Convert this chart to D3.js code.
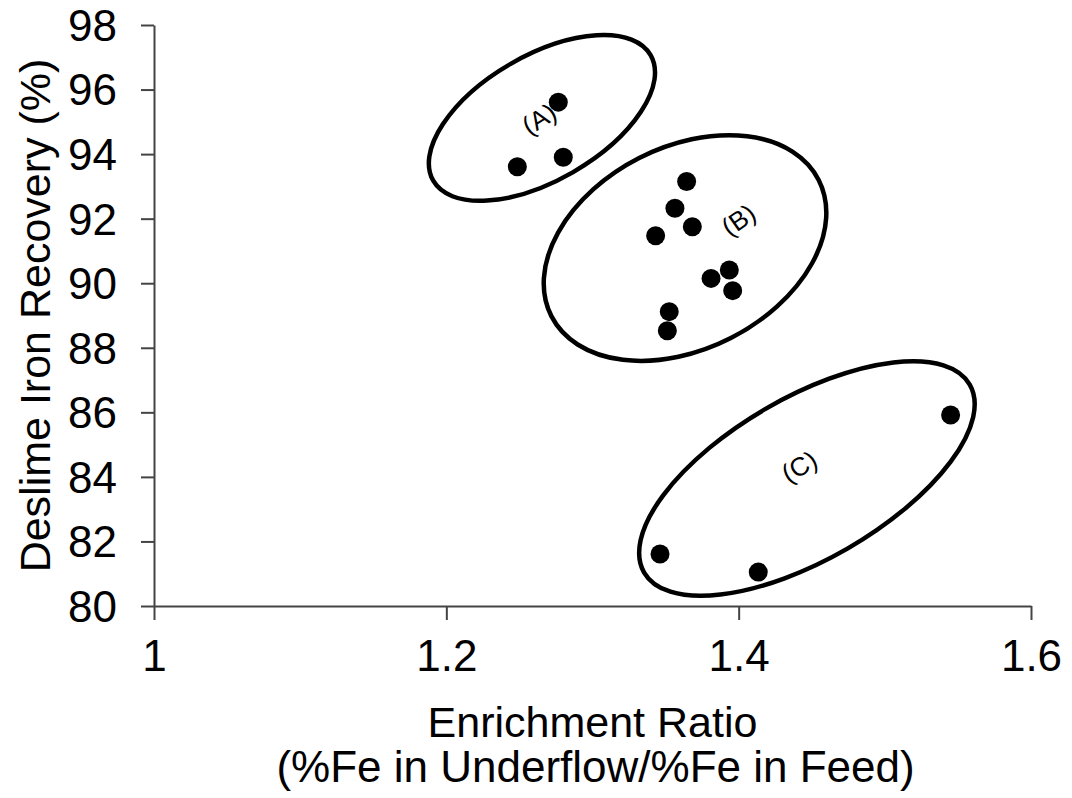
<!DOCTYPE html>
<html>
<head>
<meta charset="utf-8">
<script src="https://cdn.jsdelivr.net/npm/d3@7"></script>
<style>
  html, body { margin: 0; padding: 0; background: #fff; }
  svg { display: block; font-family: "Liberation Sans", Arial, sans-serif; }
</style>
</head>
<body>
<svg id="chart" width="1072" height="798"></svg>
<script>
// ---- data ----
const groupA_x = [1.2766, 1.2486, 1.2800];
const groupA_y = [95.61, 93.61, 93.90];
const groupB_x = [1.3644, 1.3564, 1.3683, 1.3432, 1.3936, 1.3811, 1.3959, 1.3525, 1.3512];
const groupB_y = [93.15, 92.32, 91.75, 91.47, 90.41, 90.15, 89.77, 89.12, 88.53];
const groupC_x = [1.5450, 1.3462, 1.4134];
const groupC_y = [85.92, 81.61, 81.05];

const xTicks = [1, 1.2, 1.4, 1.6];
const yTicks = [80, 82, 84, 86, 88, 90, 92, 94, 96, 98];
const xDomain = [1, 1.6];
const yDomain = [80, 98];

const groupLabels = ["(A)", "(B)", "(C)"];
const groupLabelX = [1.2634, 1.3999, 1.4415];
const groupLabelY = [95.09, 91.96, 84.32];
// cluster ellipse centres in data units
const ellipseCx = [1.2654, 1.3633, 1.4467];
const ellipseCy = [95.12, 91.09, 83.95];

const xTitle1 = "Enrichment Ratio";
const xTitle2 = "(%Fe in Underflow/%Fe in Feed)";
const yTitle = "Deslime Iron Recovery (%)";

// ---- layout ----
const margin = { left: 154, top: 25, right: 1072 - 1031, bottom: 798 - 606 };
const svg = d3.select("#chart");
const W = 1072, H = 798;
const x = d3.scaleLinear().domain(xDomain).range([margin.left, W - margin.right]);
const y = d3.scaleLinear().domain(yDomain).range([H - margin.bottom, margin.top]);

// ellipse shapes (pixel semi-axes, rotation in degrees)
const ellipseRx = [125.5, 150, 188];
const ellipseRy = [62.5, 101, 81];
const ellipseRot = [-30, -27, -30];
const labelRot = [-32, -35, -30];

// axes
const axisColor = "#444";
const yAxis = svg.append("g")
  .attr("transform", `translate(${margin.left},0)`)
  .call(d3.axisLeft(y).tickValues(yTicks).tickSize(13).tickSizeOuter(0).tickPadding(24).tickFormat(d3.format("d")));
const xAxis = svg.append("g")
  .attr("transform", `translate(0,${H - margin.bottom})`)
  .call(d3.axisBottom(x).tickValues(xTicks).tickSize(14).tickSizeOuter(0).tickPadding(20).tickFormat(d => d === 1 ? "1" : d3.format(".1f")(d)));

[xAxis, yAxis].forEach(g => {
  g.select(".domain").attr("stroke", axisColor).attr("stroke-width", 2);
  g.selectAll(".tick line").attr("stroke", axisColor).attr("stroke-width", 2);
  g.selectAll(".tick text").attr("fill", "#000").style("font-size", "44px")
    .style("font-family", '"Liberation Sans", Arial, sans-serif');
});
yAxis.selectAll(".tick text").attr("dy", "0.35em");
xAxis.selectAll(".tick text").attr("dy", "0.71em");

// axis titles
svg.append("text")
  .attr("x", (x(xDomain[0]) + x(xDomain[1])) / 2)
  .attr("y", 737)
  .attr("text-anchor", "middle")
  .style("font-size", "43px")
  .text(xTitle1);
svg.append("text")
  .attr("x", (x(xDomain[0]) + x(xDomain[1])) / 2 + 3)
  .attr("y", 782)
  .attr("text-anchor", "middle")
  .style("font-size", "44px")
  .text(xTitle2);
svg.append("text")
  .attr("transform", `translate(50,${(y(yDomain[0]) + y(yDomain[1])) / 2}) rotate(-90)`)
  .attr("text-anchor", "middle")
  .style("font-size", "43px")
  .text(yTitle);

// ellipses
const ellipses = ellipseCx.map((cx, i) => ({ cx, cy: ellipseCy[i], rx: ellipseRx[i], ry: ellipseRy[i], rot: ellipseRot[i] }));
svg.append("g").selectAll("ellipse").data(ellipses).join("ellipse")
  .attr("transform", d => `translate(${x(d.cx)},${y(d.cy)}) rotate(${d.rot})`)
  .attr("rx", d => d.rx)
  .attr("ry", d => d.ry)
  .attr("fill", "none")
  .attr("stroke", "#000")
  .attr("stroke-width", 4.5);

// points
const points = [];
groupA_x.forEach((v, i) => points.push({ x: v, y: groupA_y[i] }));
groupB_x.forEach((v, i) => points.push({ x: v, y: groupB_y[i] }));
groupC_x.forEach((v, i) => points.push({ x: v, y: groupC_y[i] }));
svg.append("g").selectAll("circle").data(points).join("circle")
  .attr("cx", d => x(d.x))
  .attr("cy", d => y(d.y))
  .attr("r", 9.5)
  .attr("fill", "#000");

// group labels
svg.append("g").selectAll("text").data(groupLabels).join("text")
  .attr("transform", (d, i) => `translate(${x(groupLabelX[i])},${y(groupLabelY[i])}) rotate(${labelRot[i]})`)
  .attr("text-anchor", "middle")
  .attr("dy", "0.35em")
  .style("font-size", "26px")
  .text(d => d);
</script>
</body>
</html>
